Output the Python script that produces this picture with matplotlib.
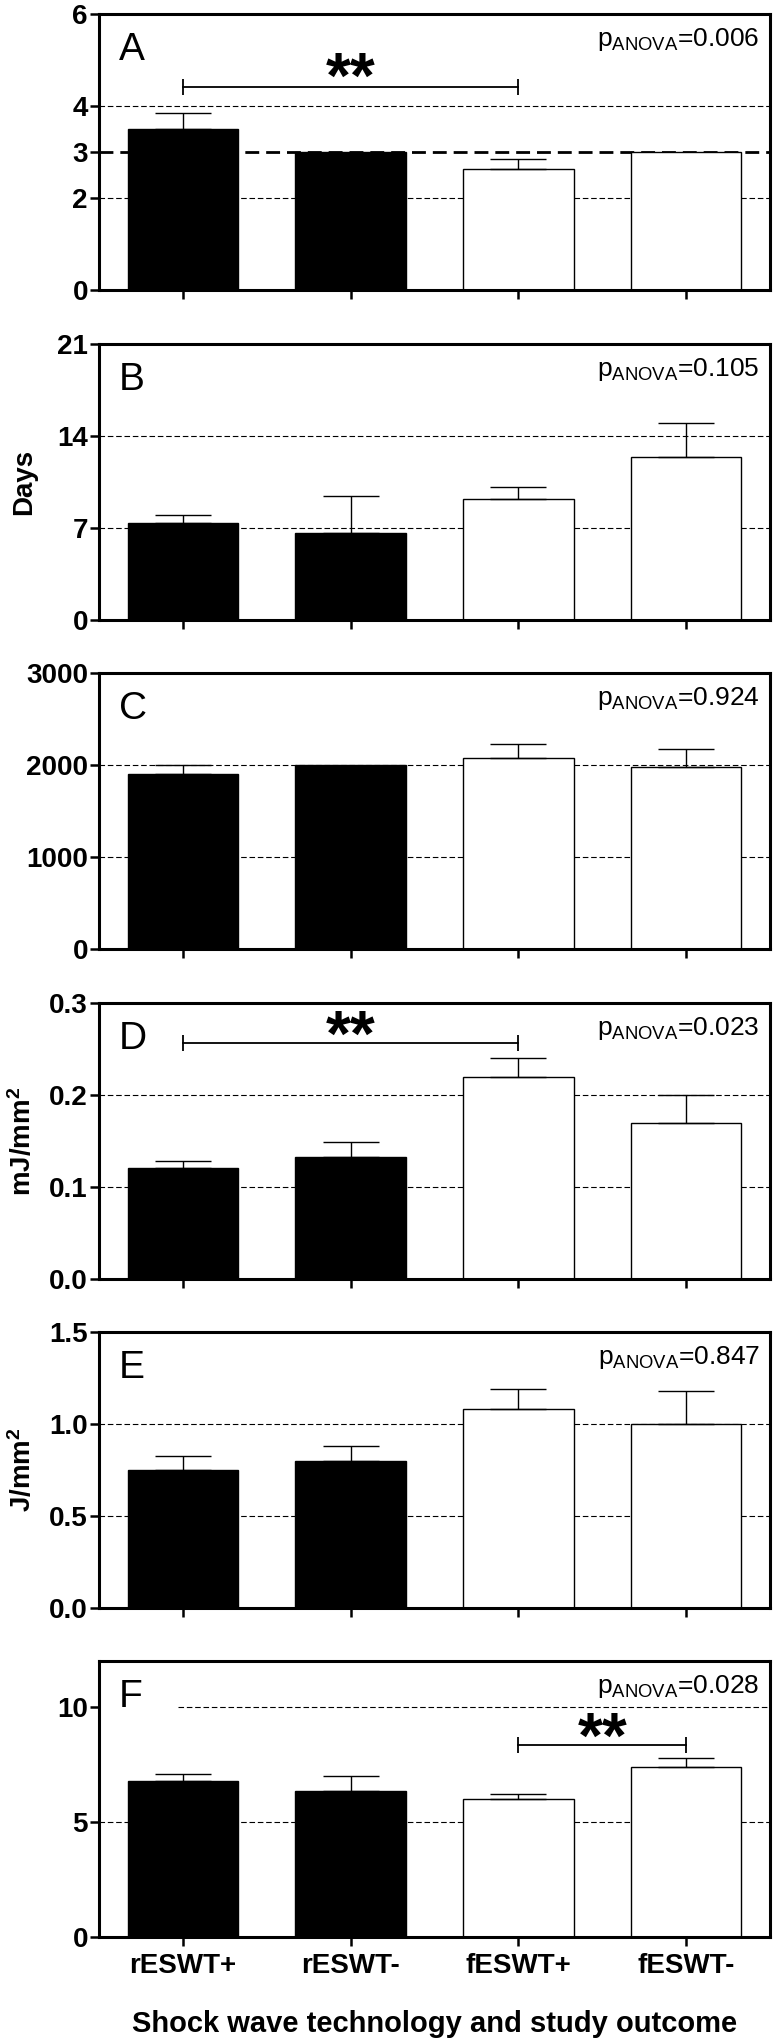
import matplotlib
matplotlib.use('Agg')
import matplotlib.pyplot as plt
import numpy as np

plt.rcParams['font.family'] = ['Liberation Sans', 'DejaVu Sans']
plt.rcParams['mathtext.default'] = 'regular'

groups = ['rESWT+', 'rESWT-', 'fESWT+', 'fESWT-']
bar_colors = ['black', 'black', 'white', 'white']

# mean and upper error (SEM) per panel
a_mean = [3.51, 3.0, 2.64, 3.0]
a_err = [0.33, 0, 0.21, 0]
b_mean = [7.37, 6.64, 9.23, 12.41]
b_err = [0.59, 2.79, 0.91, 2.56]
c_mean = [1900, 2000, 2080, 1980]
c_err = [100, 0, 147, 192]
d_mean = [0.121, 0.133, 0.220, 0.170]
d_err = [0.007, 0.016, 0.020, 0.030]
e_mean = [0.75, 0.80, 1.08, 1.00]
e_err = [0.075, 0.08, 0.11, 0.177]
f_mean = [6.78, 6.35, 5.99, 7.38]
f_err = [0.32, 0.67, 0.21, 0.39]

means = [a_mean, b_mean, c_mean, d_mean, e_mean, f_mean]
errs = [a_err, b_err, c_err, d_err, e_err, f_err]

panel_letters = ['A', 'B', 'C', 'D', 'E', 'F']
p_anova = ['0.006', '0.105', '0.924', '0.023', '0.847', '0.028']
y_labels = ['', 'Days', '', r'mJ/mm$^2$', r'J/mm$^2$', '']
y_max = [6, 21, 3000, 0.3, 1.5, 12]
y_ticks = [[0, 2, 3, 4, 6], [0, 7, 14, 21], [0, 1000, 2000, 3000],
           [0, 0.1, 0.2, 0.3], [0, 0.5, 1.0, 1.5], [0, 5, 10]]
grid_vals = [[2, 3, 4], [7, 14], [1000, 2000], [0.1, 0.2], [0.5, 1.0], [5, 10]]

# significance brackets: panel -> (from group, to group, bracket y, top of stars)
signif = {0: (0, 2, 4.42, 5.2), 3: (0, 2, 0.257, 0.294), 5: (2, 3, 8.36, 9.82)}

W, H = 773, 2041
fig = plt.figure(figsize=(W / 100, H / 100), dpi=100)

tops = [14, 344, 673, 1003, 1332, 1661]
ax_h = 276
left, width = 99, 671
x = np.arange(len(groups))

for i in range(6):
    ax = fig.add_axes([left / W, 1 - (tops[i] + ax_h) / H, width / W, ax_h / H])

    ax.bar(x, means[i], width=0.66, color=bar_colors, edgecolor='black', linewidth=1, zorder=2)
    for j in range(len(groups)):
        if errs[i][j] > 0:
            ax.errorbar(x[j], means[i][j], yerr=[[0], [errs[i][j]]], fmt='none', ecolor='black',
                        elinewidth=1, capsize=20, capthick=1, zorder=3)

    for g in grid_vals[i]:
        lw = 2 if (i == 0 and g == 3) else 0.8
        xmin = 0.118 if (i == 5 and g == 10) else 0
        ax.axhline(g, xmin=xmin, color='black', lw=lw, ls=(0, (5, 2.5)), zorder=1)

    ax.set_xlim(-0.5, 3.5)
    ax.set_ylim(0, y_max[i])
    ax.set_yticks(y_ticks[i])
    if i in (3, 4):
        ax.set_yticklabels(['%.1f' % t for t in y_ticks[i]], fontweight='bold')
    else:
        ax.set_yticklabels(['%g' % t for t in y_ticks[i]], fontweight='bold')
    ax.set_xticks(x)
    if i == 5:
        ax.set_xticklabels(groups, fontweight='bold')
        ax.set_xlabel('Shock wave technology and study outcome', fontsize=21,
                      fontweight='bold', labelpad=22)
    else:
        ax.set_xticklabels([])

    for s in ax.spines.values():
        s.set_linewidth(2.2)
    ax.tick_params(axis='both', direction='out', length=6.5, width=1.8, labelsize=20)
    ax.tick_params(axis='y', pad=1.5)
    ax.tick_params(axis='x', pad=5)

    if y_labels[i]:
        ax.set_ylabel(y_labels[i], fontsize=20, fontweight='bold')
        ax.yaxis.set_label_coords(-0.092, 0.5)

    ax.text(0.03, 0.935, panel_letters[i], transform=ax.transAxes, fontsize=28,
            ha='left', va='top')
    ax.text(0.985, 0.885, r'p$_{ANOVA}$=' + p_anova[i], transform=ax.transAxes,
            fontsize=19, ha='right', va='baseline')

    if i in signif:
        g0, g1, yb, ys = signif[i]
        ax.plot([x[g0], x[g1]], [yb, yb], color='black', lw=1.3, marker='|',
                markersize=12, markeredgewidth=1.3, zorder=3)
        ax.text((x[g0] + x[g1]) / 2, ys, '**', fontsize=46, fontweight='bold',
                ha='center', va='top')

fig.savefig('out.png', dpi=100)
